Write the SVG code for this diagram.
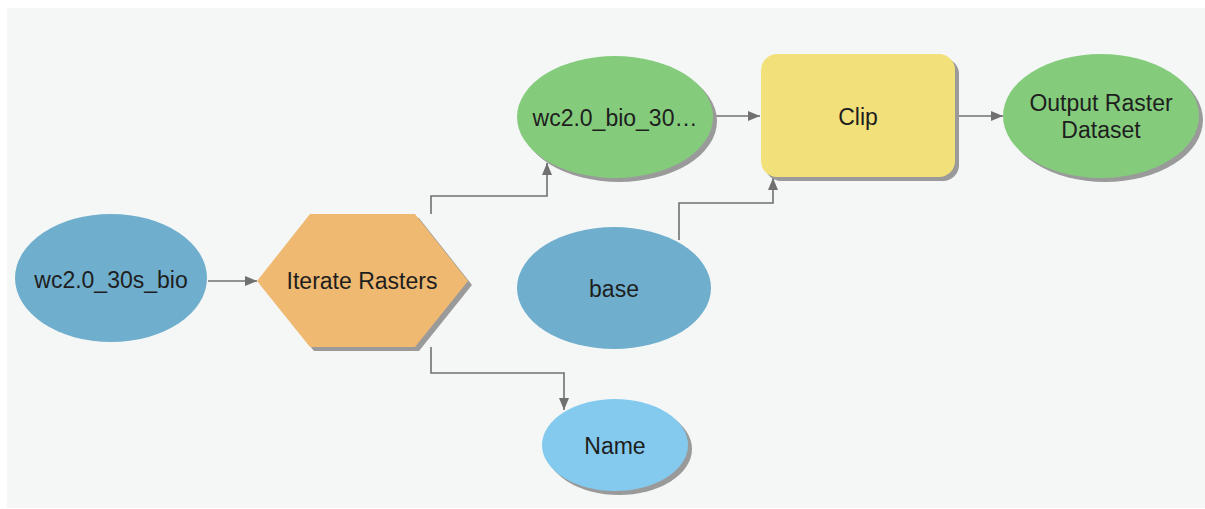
<svg xmlns="http://www.w3.org/2000/svg" width="1205" height="509" viewBox="0 0 1205 509">
  <style>
    .lbl { font-family: "Liberation Sans", Arial, sans-serif; font-size: 23px; fill: #1e1e1e; text-anchor: middle; dominant-baseline: central; }
    .shadow { fill: #9a9a9a; }
    .input { fill: #6fafcd; }
    .derived { fill: #84cc7c; }
    .tool { fill: #f2e17a; }
    .iter { fill: #f0b971; }
    .var { fill: #84caee; }
    .conn { fill: none; stroke: #707070; stroke-width: 1.6; }
  </style>
  <defs>
    <marker id="arrow" viewBox="0 0 12 10" refX="12" refY="5" markerWidth="12" markerHeight="10" markerUnits="userSpaceOnUse" orient="auto">
      <path d="M0,0 L12,5 L0,10 Z" fill="#707070"/>
    </marker>
  </defs>

  <rect x="0" y="0" width="1205" height="509" fill="#ffffff"/>
  <rect x="7" y="8" width="1198" height="500" fill="#f5f7f7"/>

  <g id="connectors">
    <line class="conn" x1="208" y1="281" x2="257" y2="281" marker-end="url(#arrow)"/>
    <polyline class="conn" points="431,214 431,196 547,196 547,163" marker-end="url(#arrow)"/>
    <polyline class="conn" points="431,347 431,373 564,373 564,410" marker-end="url(#arrow)"/>
    <line class="conn" x1="714" y1="116" x2="760" y2="116" marker-end="url(#arrow)"/>
    <polyline class="conn" points="679,240 679,203 773,203 773,178" marker-end="url(#arrow)"/>
    <line class="conn" x1="956" y1="116" x2="1003" y2="116" marker-end="url(#arrow)"/>
  </g>

  <g id="node-wc20-30s-bio">
    <ellipse class="input" cx="111" cy="278" rx="96" ry="64"/>
    <text class="lbl" x="111" y="280">wc2.0_30s_bio</text>
  </g>

  <g id="node-iterate-rasters">
    <polygon class="shadow" points="261,285 314,218 419,218 472,285 419,351 314,351"/>
    <polygon class="iter" points="257,281 310,214 415,214 468,281 415,347 310,347"/>
    <text class="lbl" x="362" y="281">Iterate Rasters</text>
  </g>

  <g id="node-wc20-bio-30">
    <ellipse class="shadow" cx="619" cy="121" rx="98" ry="61"/>
    <ellipse class="derived" cx="615" cy="117" rx="98" ry="61"/>
    <text class="lbl" x="615" y="118">wc2.0_bio_30…</text>
  </g>

  <g id="node-clip">
    <rect class="shadow" x="765" y="58" width="194" height="123" rx="16"/>
    <rect class="tool" x="761" y="54" width="194" height="123" rx="16"/>
    <text class="lbl" x="858" y="117">Clip</text>
  </g>

  <g id="node-output-raster">
    <ellipse class="shadow" cx="1105" cy="120" rx="98" ry="62"/>
    <ellipse class="derived" cx="1101" cy="116" rx="98" ry="62"/>
    <text class="lbl" x="1101" y="103">Output Raster</text>
    <text class="lbl" x="1101" y="130">Dataset</text>
  </g>

  <g id="node-base">
    <ellipse class="input" cx="614" cy="288" rx="97" ry="61"/>
    <text class="lbl" x="614" y="289">base</text>
  </g>

  <g id="node-name">
    <ellipse class="shadow" cx="619" cy="449" rx="73" ry="46"/>
    <ellipse class="var" cx="615" cy="445" rx="73" ry="46"/>
    <text class="lbl" x="615" y="446">Name</text>
  </g>
</svg>
